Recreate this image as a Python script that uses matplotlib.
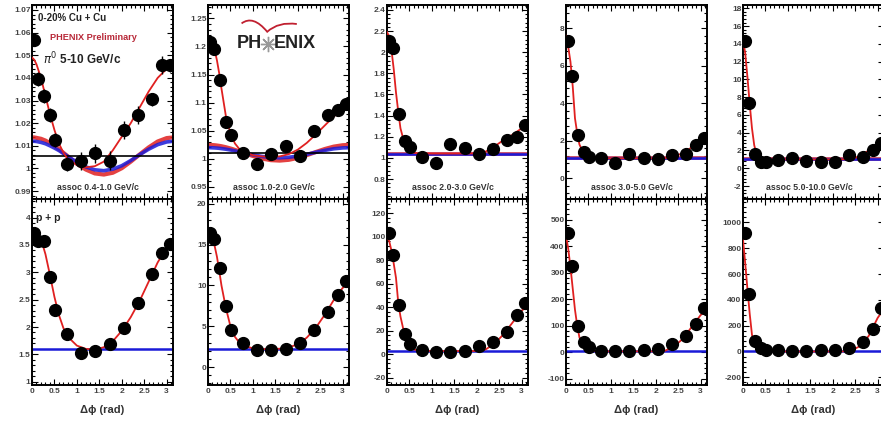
import numpy as np
import matplotlib
matplotlib.use("Agg")
import matplotlib.pyplot as plt
from matplotlib.ticker import MultipleLocator, AutoMinorLocator, FuncFormatter
from matplotlib.path import Path
from matplotlib.patches import PathPatch

plt.rcParams['font.family'] = ['Liberation Sans', 'DejaVu Sans']

# --- data ------------------------------------------------------------------
phi_pts = [0.04, 0.13, 0.26, 0.39, 0.52, 0.79, 1.10, 1.41, 1.73, 2.04, 2.36, 2.67, 2.90, 3.08]
phi_fit = [0, 0.05, 0.1, 0.15, 0.2, 0.25, 0.3, 0.4, 0.5, 0.6, 0.7, 0.8,
           1.0, 1.2, 1.4, 1.6, 1.8, 2.0, 2.2, 2.4, 2.6, 2.8, 3.0, 3.14]

assoc_labels = ["assoc 0.4-1.0 GeV/c", "assoc 1.0-2.0 GeV/c", "assoc 2.0-3.0 GeV/c",
                "assoc 3.0-5.0 GeV/c", "assoc 5.0-10.0 GeV/c"]

# Cu+Cu 0-20%
cu_04_10 = [1.0566, 1.0396, 1.0320, 1.0237, 1.0126, 1.0019, 1.0032, 1.0066, 1.0035, 1.0170, 1.0237, 1.0305, 1.0455, 1.0455]
cu_04_10_err = [0.002, 0.003, 0.003, 0.003, 0.003, 0.003, 0.004, 0.004, 0.004, 0.004, 0.004, 0.003, 0.004, 0.003]
cu_10_20 = [1.208, 1.196, 1.141, 1.065, 1.043, 1.010, 0.991, 1.008, 1.022, 1.004, 1.049, 1.077, 1.086, 1.097]
cu_10_20_err = [0.005, 0.005, 0.005, 0.005, 0.005, 0.005, 0.006, 0.008, 0.008, 0.006, 0.006, 0.006, 0.006, 0.006]
cu_20_30 = [2.109, 2.036, 1.416, 1.157, 1.104, 1.009, 0.955, 1.130, 1.090, 1.041, 1.080, 1.170, 1.200, 1.310]
cu_30_50 = [7.34, 5.46, 2.32, 1.42, 1.16, 1.07, 0.80, 1.30, 1.07, 1.01, 1.24, 1.28, 1.78, 2.13]
cu_50_100 = [14.36, 7.39, 1.61, 0.75, 0.75, 0.94, 1.12, 0.86, 0.67, 0.67, 1.50, 1.31, 2.06, 2.80]

cu_04_10_fit = [1.049, 1.048, 1.046, 1.043, 1.040, 1.036, 1.032, 1.024, 1.017, 1.011, 1.007, 1.004,
                1.0015, 1.0005, 1.001, 1.003, 1.008, 1.014, 1.020, 1.027, 1.034, 1.040, 1.044, 1.045]
cu_10_20_fit = [1.214, 1.212, 1.205, 1.193, 1.175, 1.152, 1.125, 1.075, 1.045, 1.027, 1.017, 1.012,
                1.006, 1.004, 1.003, 1.004, 1.008, 1.016, 1.028, 1.043, 1.059, 1.075, 1.088, 1.094]
cu_20_30_fit = [2.19, 2.15, 2.02, 1.84, 1.62, 1.44, 1.28, 1.12, 1.065, 1.048, 1.043, 1.042,
                1.041, 1.041, 1.041, 1.041, 1.041, 1.043, 1.06, 1.11, 1.17, 1.22, 1.28, 1.31]
cu_30_50_fit = [7.6, 7.0, 6.2, 4.9, 3.2, 2.4, 1.8, 1.3, 1.15, 1.1, 1.08, 1.07,
                1.07, 1.07, 1.07, 1.07, 1.07, 1.07, 1.08, 1.15, 1.35, 1.65, 1.95, 2.1]
cu_50_100_fit = [14.5, 12.9, 10.2, 7.2, 4.5, 2.6, 1.6, 1.15, 1.05, 1.0, 1.0, 1.0,
                 1.0, 1.0, 1.0, 1.0, 1.0, 1.0, 1.0, 1.05, 1.35, 2.0, 2.8, 3.4]

# flow-modulated backgrounds (first two Cu+Cu panels)
cu_04_10_v2_red = [1.0137, 1.0137, 1.0135, 1.0133, 1.0131, 1.0127, 1.0123, 1.0112, 1.0099, 1.0085, 1.0069, 1.0053,
                   1.0021, 0.9995, 0.9978, 0.9973, 0.9981, 1.0001, 1.0030, 1.0062, 1.0093, 1.0119, 1.0134, 1.0137]
cu_04_10_v2_blue = [1.0120, 1.0120, 1.0119, 1.0117, 1.0115, 1.0112, 1.0109, 1.0100, 1.0090, 1.0079, 1.0066, 1.0053,
                    1.0028, 1.0007, 0.9994, 0.9990, 0.9997, 1.0012, 1.0035, 1.0061, 1.0085, 1.0105, 1.0117, 1.0120]
cu_10_20_v2_red = [1.0245, 1.0244, 1.0242, 1.0239, 1.0234, 1.0228, 1.0221, 1.0203, 1.0181, 1.0156, 1.0129, 1.0101,
                   1.0047, 1.0002, 0.9973, 0.9965, 0.9979, 1.0013, 1.0062, 1.0117, 1.0171, 1.0214, 1.0239, 1.0245]
cu_10_20_v2_blue = [1.0195, 1.0195, 1.0193, 1.0191, 1.0188, 1.0184, 1.0179, 1.0168, 1.0154, 1.0138, 1.0120, 1.0102,
                    1.0068, 1.0039, 1.0020, 1.0015, 1.0024, 1.0046, 1.0077, 1.0113, 1.0147, 1.0175, 1.0191, 1.0195]
cu_black_level = [1.0055, 1.0105]
cu_blue_level = [None, None, 1.041, 1.07, 1.0]

# p+p
pp_04_10 = [3.72, 3.57, 3.57, 2.92, 2.32, 1.88, 1.53, 1.57, 1.69, 1.98, 2.44, 2.96, 3.36, 3.52]
pp_10_20 = [16.39, 15.74, 12.17, 7.46, 4.50, 2.95, 2.05, 2.05, 2.21, 2.95, 4.59, 6.72, 8.89, 10.53]
pp_20_30 = [103.3, 84.6, 41.6, 17.2, 8.6, 3.4, 1.4, 1.4, 2.9, 7.2, 10.0, 18.7, 33.0, 43.9]
pp_30_50 = [451, 325, 98, 38, 20, 4, 4, 4, 8, 10, 29, 61, 105, 168]
pp_50_100 = [917, 449, 78, 26, 13, 8, 0, 0, 8, 8, 26, 70, 174, 338]

pp_04_10_fit = [3.74, 3.73, 3.70, 3.64, 3.57, 3.47, 3.33, 2.95, 2.55, 2.22, 1.98, 1.82,
                1.66, 1.60, 1.59, 1.63, 1.74, 1.93, 2.18, 2.48, 2.83, 3.18, 3.45, 3.55]
pp_10_20_fit = [16.5, 16.3, 15.8, 14.8, 13.5, 11.8, 10.0, 7.2, 5.0, 3.7, 3.0, 2.6,
                2.3, 2.2, 2.2, 2.25, 2.4, 2.8, 3.6, 4.8, 6.4, 8.2, 9.7, 10.3]
pp_20_30_fit = [100, 96, 88, 77, 65, 44, 32, 15, 7, 4, 3, 2.7,
                2.6, 2.6, 2.6, 2.6, 2.6, 2.7, 4.0, 9, 17, 27, 37, 41]
pp_30_50_fit = [440, 390, 320, 240, 160, 100, 55, 20, 8, 4, 3, 3,
                3, 3, 3, 3, 3, 3, 5, 20, 50, 95, 140, 158]
pp_50_100_fit = [870, 680, 480, 290, 130, 60, 30, 10, 3, 0, 0, 0,
                 0, 0, 0, 0, 0, 0, 0, 5, 40, 120, 260, 330]
pp_blue_level = [1.59, 2.2, 2.5, 4, 0]

cu_pts = [cu_04_10, cu_10_20, cu_20_30, cu_30_50, cu_50_100]
cu_errs = [cu_04_10_err, cu_10_20_err, None, None, None]
cu_fits = [cu_04_10_fit, cu_10_20_fit, cu_20_30_fit, cu_30_50_fit, cu_50_100_fit]
pp_pts = [pp_04_10, pp_10_20, pp_20_30, pp_30_50, pp_50_100]
pp_fits = [pp_04_10_fit, pp_10_20_fit, pp_20_30_fit, pp_30_50_fit, pp_50_100_fit]

cu_ylim = [(0.9865, 1.0722), (0.928, 1.274), (0.611, 2.447), (-1.1, 9.24), (-3.46, 18.37)]
cu_ystep = [0.01, 0.05, 0.2, 2, 2]
pp_ylim = [(0.94, 4.34), (-2.2, 20.6), (-26.3, 132), (-124, 578), (-260, 1182)]
pp_ystep = [0.5, 5, 20, 100, 200]

# --- layout ---------------------------------------------------------------
W, H = 881, 430
lefts = [32, 208, 387, 566, 743]
pw = 141
RED = "#e02020"
BLUE = "#1a1ad8"

fig = plt.figure(figsize=(W / 100, H / 100), dpi=100)
gfmt = FuncFormatter(lambda v, p: f"{v:g}")


def style(ax, ylim, ystep, xlabels):
    ax.set_xlim(0, np.pi)
    ax.set_ylim(*ylim)
    ax.xaxis.set_major_locator(MultipleLocator(0.5))
    ax.xaxis.set_minor_locator(MultipleLocator(0.1))
    ax.yaxis.set_major_locator(MultipleLocator(ystep))
    ax.yaxis.set_minor_locator(AutoMinorLocator(5))
    ax.yaxis.set_major_formatter(gfmt)
    ax.xaxis.set_major_formatter(gfmt)
    ax.tick_params(which="both", direction="in", top=True, right=True,
                   labelsize=6, labelcolor="#444", width=0.8, pad=2.5)
    ax.tick_params(which="major", length=4)
    ax.tick_params(which="minor", length=2)
    ax.tick_params(axis="y", pad=1)
    for lab in ax.get_xticklabels() + ax.get_yticklabels():
        lab.set_fontweight("bold")
    if not xlabels:
        ax.tick_params(axis="x", labelbottom=False)
    for s in ax.spines.values():
        s.set_linewidth(1.4)


for i in range(5):
    # Cu+Cu row
    ax = fig.add_axes([lefts[i] / W, 1 - 199 / H, pw / W, 194 / H])
    style(ax, cu_ylim[i], cu_ystep[i], False)
    if i < 2:
        red_b = [cu_04_10_v2_red, cu_10_20_v2_red][i]
        blue_b = [cu_04_10_v2_blue, cu_10_20_v2_blue][i]
        ax.plot(phi_fit, red_b, color=RED, lw=3.0, alpha=0.85, zorder=2)
        ax.plot(phi_fit, blue_b, color=BLUE, lw=2.6, alpha=0.85, zorder=2)
        ax.axhline(cu_black_level[i], color="black", lw=1.2, zorder=2)
    else:
        ax.axhline(cu_blue_level[i], color="#c03050", lw=2.6, zorder=2)
        ax.axhline(cu_blue_level[i], color=BLUE, lw=1.8, zorder=2)
    ax.plot(phi_fit, cu_fits[i], color=RED, lw=1.3, zorder=3)
    ax.errorbar(phi_pts, cu_pts[i], yerr=cu_errs[i], fmt="o", color="black",
                ms=8.5, elinewidth=1.0, capsize=0, zorder=4)
    ax.text(0.47, 0.06, assoc_labels[i], transform=ax.transAxes, ha="center",
            va="center", fontsize=6.3, fontweight="bold", color="#333")

    if i == 0:
        ax.text(0.04, 0.935, "0-20% Cu + Cu", transform=ax.transAxes, fontsize=7,
                fontweight="bold", va="center", color="#222")
        ax.text(0.13, 0.83, "PHENIX Preliminary", transform=ax.transAxes, fontsize=6.6,
                fontweight="bold", va="center", color="#b82838")
        ax.text(0.08, 0.72, r"$\pi^0$ 5-10 GeV/c", transform=ax.transAxes, fontsize=8.5,
                fontweight="bold", va="center", color="#222")
    if i == 1:
        # PHENIX logo
        ax.text(0.38, 0.80, "PH", transform=ax.transAxes, ha="right", va="center",
                fontsize=13, fontweight="bold", color="#222")
        ax.text(0.465, 0.80, "ENIX", transform=ax.transAxes, ha="left", va="center",
                fontsize=13, fontweight="bold", color="#222")
        ax.plot([0.422], [0.80], transform=ax.transAxes, marker=(8, 2, 0), ms=11,
                color="#999", mew=1.0, clip_on=False)
        verts = [(0.238, 0.905), (0.32, 0.95), (0.42, 0.862),
                 (0.50, 0.915), (0.63, 0.902)]
        codes = [Path.MOVETO, Path.CURVE3, Path.CURVE3, Path.CURVE3, Path.CURVE3]
        ax.add_patch(PathPatch(Path(verts, codes), transform=ax.transAxes,
                               fill=False, edgecolor="#c02030", lw=1.3))

    # p+p row
    ax = fig.add_axes([lefts[i] / W, 1 - 385 / H, pw / W, 186 / H])
    style(ax, pp_ylim[i], pp_ystep[i], True)
    ax.axhline(pp_blue_level[i], color=BLUE, lw=1.8, zorder=2)
    ax.plot(phi_fit, pp_fits[i], color=RED, lw=1.3, zorder=3)
    ax.plot(phi_pts, pp_pts[i], "o", color="black", ms=8.5, zorder=4)
    ax.set_xlabel("Δϕ (rad)", fontsize=8, fontweight="bold", color="#333", labelpad=7)
    if i == 0:
        ax.text(0.03, 0.90, "p + p", transform=ax.transAxes, fontsize=7.5,
                fontweight="bold", va="center", color="#222")

fig.savefig("out.png", dpi=100)
